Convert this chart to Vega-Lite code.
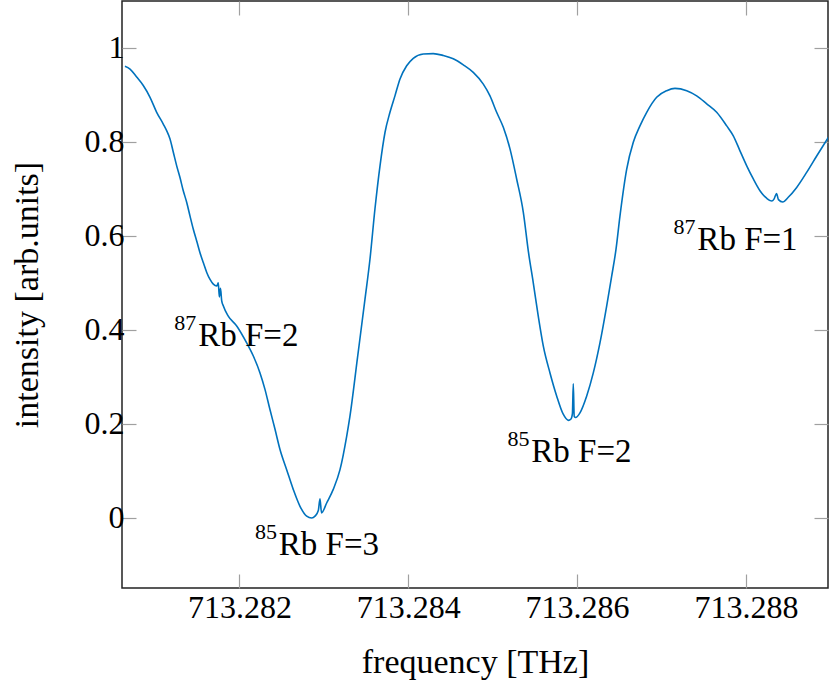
{
  "$schema": "https://vega.github.io/schema/vega-lite/v6.json",
  "width": 706,
  "height": 587,
  "autosize": {"type": "none"},
  "padding": {"left": 122, "top": 1, "right": 2, "bottom": 101},
  "background": "white",
  "config": {
    "view": {"stroke": "#222222", "strokeWidth": 1.5},
    "font": "Liberation Serif",
    "axis": {
      "domain": false,
      "grid": false,
      "tickSize": -14,
      "tickColor": "#a0a0a0",
      "tickWidth": 1.2,
      "labelFont": "Liberation Serif",
      "labelFontSize": 32,
      "labelColor": "#000000",
      "titleFont": "Liberation Serif",
      "titleFontSize": 34,
      "titleFontWeight": "normal",
      "titleColor": "#000000"
    }
  },
  "datasets": {
    "trace": [
      {"f": 713.280643, "v": 0.961},
      {"f": 713.280703, "v": 0.955},
      {"f": 713.280782, "v": 0.938},
      {"f": 713.280860, "v": 0.920},
      {"f": 713.280940, "v": 0.895},
      {"f": 713.281019, "v": 0.863},
      {"f": 713.281097, "v": 0.838},
      {"f": 713.281137, "v": 0.824},
      {"f": 713.281177, "v": 0.806},
      {"f": 713.281216, "v": 0.778},
      {"f": 713.281256, "v": 0.749},
      {"f": 713.281295, "v": 0.724},
      {"f": 713.281334, "v": 0.696},
      {"f": 713.281375, "v": 0.671},
      {"f": 713.281414, "v": 0.642},
      {"f": 713.281453, "v": 0.614},
      {"f": 713.281493, "v": 0.589},
      {"f": 713.281532, "v": 0.564},
      {"f": 713.281571, "v": 0.543},
      {"f": 713.281612, "v": 0.522},
      {"f": 713.281651, "v": 0.507},
      {"f": 713.281690, "v": 0.497},
      {"f": 713.281730, "v": 0.493},
      {"f": 713.281749, "v": 0.500},
      {"f": 713.281761, "v": 0.470},
      {"f": 713.281775, "v": 0.488},
      {"f": 713.281789, "v": 0.462},
      {"f": 713.281808, "v": 0.451},
      {"f": 713.281867, "v": 0.429},
      {"f": 713.281967, "v": 0.408},
      {"f": 713.282085, "v": 0.372},
      {"f": 713.282164, "v": 0.344},
      {"f": 713.282243, "v": 0.308},
      {"f": 713.282302, "v": 0.273},
      {"f": 713.282361, "v": 0.230},
      {"f": 713.282421, "v": 0.188},
      {"f": 713.282480, "v": 0.145},
      {"f": 713.282559, "v": 0.102},
      {"f": 713.282637, "v": 0.060},
      {"f": 713.282717, "v": 0.024},
      {"f": 713.282796, "v": 0.003},
      {"f": 713.282855, "v": -0.001},
      {"f": 713.282895, "v": 0.003},
      {"f": 713.282934, "v": 0.015},
      {"f": 713.282954, "v": 0.040},
      {"f": 713.282972, "v": 0.010},
      {"f": 713.283033, "v": 0.031},
      {"f": 713.283111, "v": 0.060},
      {"f": 713.283191, "v": 0.102},
      {"f": 713.283270, "v": 0.173},
      {"f": 713.283309, "v": 0.216},
      {"f": 713.283398, "v": 0.340},
      {"f": 713.283487, "v": 0.465},
      {"f": 713.283546, "v": 0.550},
      {"f": 713.283605, "v": 0.657},
      {"f": 713.283665, "v": 0.749},
      {"f": 713.283724, "v": 0.820},
      {"f": 713.283783, "v": 0.863},
      {"f": 713.283842, "v": 0.898},
      {"f": 713.283902, "v": 0.934},
      {"f": 713.283981, "v": 0.962},
      {"f": 713.284059, "v": 0.978},
      {"f": 713.284178, "v": 0.987},
      {"f": 713.284296, "v": 0.988},
      {"f": 713.284415, "v": 0.984},
      {"f": 713.284533, "v": 0.977},
      {"f": 713.284652, "v": 0.964},
      {"f": 713.284770, "v": 0.948},
      {"f": 713.284889, "v": 0.923},
      {"f": 713.284968, "v": 0.898},
      {"f": 713.285047, "v": 0.863},
      {"f": 713.285126, "v": 0.831},
      {"f": 713.285205, "v": 0.785},
      {"f": 713.285284, "v": 0.721},
      {"f": 713.285363, "v": 0.650},
      {"f": 713.285424, "v": 0.565},
      {"f": 713.285481, "v": 0.500},
      {"f": 713.285540, "v": 0.429},
      {"f": 713.285600, "v": 0.365},
      {"f": 713.285679, "v": 0.308},
      {"f": 713.285758, "v": 0.259},
      {"f": 713.285836, "v": 0.220},
      {"f": 713.285896, "v": 0.207},
      {"f": 713.285928, "v": 0.210},
      {"f": 713.285945, "v": 0.222},
      {"f": 713.285955, "v": 0.285},
      {"f": 713.285966, "v": 0.215},
      {"f": 713.285983, "v": 0.213},
      {"f": 713.286034, "v": 0.223},
      {"f": 713.286114, "v": 0.259},
      {"f": 713.286192, "v": 0.308},
      {"f": 713.286271, "v": 0.372},
      {"f": 713.286351, "v": 0.451},
      {"f": 713.286410, "v": 0.514},
      {"f": 713.286461, "v": 0.571},
      {"f": 713.286508, "v": 0.642},
      {"f": 713.286588, "v": 0.742},
      {"f": 713.286666, "v": 0.799},
      {"f": 713.286745, "v": 0.834},
      {"f": 713.286825, "v": 0.863},
      {"f": 713.286943, "v": 0.895},
      {"f": 713.287062, "v": 0.909},
      {"f": 713.287160, "v": 0.914},
      {"f": 713.287299, "v": 0.909},
      {"f": 713.287417, "v": 0.898},
      {"f": 713.287536, "v": 0.881},
      {"f": 713.287654, "v": 0.863},
      {"f": 713.287773, "v": 0.834},
      {"f": 713.287851, "v": 0.813},
      {"f": 713.287930, "v": 0.781},
      {"f": 713.288010, "v": 0.749},
      {"f": 713.288088, "v": 0.721},
      {"f": 713.288167, "v": 0.696},
      {"f": 713.288246, "v": 0.680},
      {"f": 713.288306, "v": 0.674},
      {"f": 713.288333, "v": 0.678},
      {"f": 713.288363, "v": 0.690},
      {"f": 713.288386, "v": 0.677},
      {"f": 713.288436, "v": 0.672},
      {"f": 713.288502, "v": 0.682},
      {"f": 713.288602, "v": 0.703},
      {"f": 713.288720, "v": 0.735},
      {"f": 713.288839, "v": 0.770},
      {"f": 713.288979, "v": 0.810}
    ],
    "labels": [
      {"f": 713.282104, "v": 0.365, "iso": "87", "state": "Rb F=2"},
      {"f": 713.283060, "v": -0.079, "iso": "85", "state": "Rb F=3"},
      {"f": 713.286052, "v": 0.119, "iso": "85", "state": "Rb F=2"},
      {"f": 713.288019, "v": 0.570, "iso": "87", "state": "Rb F=1"}
    ]
  },
  "layer": [
    {
      "data": {"name": "trace"},
      "mark": {"type": "line", "color": "#0072bd", "strokeWidth": 1.6, "clip": true, "interpolate": "monotone"},
      "encoding": {
        "x": {
          "field": "f", "type": "quantitative",
          "scale": {"domain": [713.280608, 713.288973], "nice": false, "zero": false},
          "axis": {"orient": "bottom", "values": [713.282, 713.284, 713.286, 713.288], "format": ".3f", "labelPadding": 18, "title": "frequency [THz]", "titlePadding": 22}
        },
        "y": {
          "field": "v", "type": "quantitative",
          "scale": {"domain": [-0.15, 1.1], "nice": false, "zero": false},
          "axis": {"orient": "left", "values": [0, 0.2, 0.4, 0.6, 0.8, 1], "format": "~g", "labelPadding": 12, "title": "intensity [arb.units]", "titlePadding": 40}
        }
      }
    },
    {
      "data": {"name": "labels"},
      "mark": {"type": "text", "font": "Liberation Serif", "fontSize": 33, "color": "#000000", "align": "center", "baseline": "alphabetic"},
      "encoding": {
        "x": {
          "field": "f", "type": "quantitative",
          "axis": {"orient": "top", "values": [713.282, 713.284, 713.286, 713.288], "labels": false, "title": null}
        },
        "y": {
          "field": "v", "type": "quantitative",
          "axis": {"orient": "right", "values": [0, 0.2, 0.4, 0.6, 0.8, 1], "labels": false, "title": null}
        },
        "text": {"field": "state"}
      }
    },
    {
      "data": {"name": "labels"},
      "mark": {"type": "text", "font": "Liberation Serif", "fontSize": 22, "color": "#000000", "align": "right", "baseline": "alphabetic", "dx": -52, "dy": -16},
      "encoding": {
        "x": {"field": "f", "type": "quantitative", "axis": null},
        "y": {"field": "v", "type": "quantitative", "axis": null},
        "text": {"field": "iso"}
      }
    }
  ],
  "resolve": {"axis": {"x": "independent", "y": "independent"}}
}
